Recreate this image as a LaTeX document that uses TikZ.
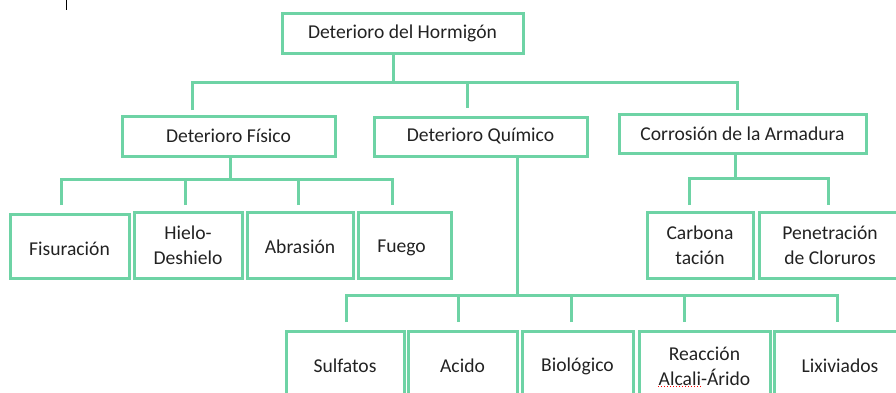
\documentclass[tikz,border=0pt]{standalone}
\usepackage{fontspec}
\setmainfont{Carlito}
\usepackage{tikz}
\definecolor{boxgreen}{HTML}{6ED3A5}
\definecolor{txtgray}{HTML}{222222}
\tikzstyle{box} = [draw=boxgreen, line width=1.5pt, rectangle, inner sep=0pt, align=center, text=txtgray, font=\fontsize{9.8}{12.5}\selectfont]
\tikzstyle{link} = [draw=boxgreen, line width=1.5pt]

\begin{document}
\begin{tikzpicture}[x=0.5pt,y=-0.5pt]
	\useasboundingbox (0,0) rectangle (896,392);
	\clip (0,0) rectangle (896,392);
	\draw[black, line width=0.5pt] (66,0) -- (66,10);
	% level 0 and 1
	\node[box, minimum width=120.5pt, minimum height=20pt] (top) at (402.5,33) {Deterioro del Hormigón};
	\node[box, minimum width=106.5pt, minimum height=20pt] (fis) at (228.5,136) {Deterioro Físico};
	\node[box, minimum width=106.5pt, minimum height=19.5pt] (qui) at (480.5,136.5) {Deterioro Químico};
	\node[box, minimum width=123.5pt, minimum height=19.5pt] (cor) at (742.5,133.5) {Corrosión de la Armadura};
	% level 2
	\node[box, minimum width=59.5pt, minimum height=32pt] (fisu) at (69.5,246) {\raisebox{-1.5pt}[\height][\depth]{Fisuración}};
	\node[box, minimum width=54pt, minimum height=33pt] (hie) at (188,245) {Hielo-\\Deshielo};
	\node[box, minimum width=53pt, minimum height=33pt] (abr) at (300,245) {\raisebox{-1pt}[\height][\depth]{Abrasión}};
	\node[box, minimum width=46.5pt, minimum height=33pt] (fue) at (404.5,245) {\raisebox{-1.5pt}[\height][\depth]{Fuego\hspace{3pt}}};
	\node[box, minimum width=53pt, minimum height=33pt] (car) at (700,245) {Carbona\\tación};
	\node[box, minimum width=71pt, minimum height=33pt] (pen) at (830,245) {Penetración\\de Cloruros};
	\node[box, minimum width=59pt, minimum height=35pt] (sul) at (345,366) {Sulfatos};
	\node[box, minimum width=54.5pt, minimum height=35pt] (aci) at (462.5,366) {Acido};
	\node[box, minimum width=55.5pt, minimum height=35pt] (bio) at (577.5,366) {Biológico};
	\node[box, minimum width=65.5pt, minimum height=35pt] (rea) at (704.5,366) {Reacción\\Alcali-Árido};
	\node[box, minimum width=66pt, minimum height=35pt] (lix) at (840,366) {Lixiviados};
	\draw[red, line width=0.5pt, densely dotted] (658,386) -- (701,386);
	% junctions and drop ends
	\coordinate (j0) at (393,82);
	\coordinate (d-fis) at (192,110);
	\coordinate (d-qui) at (467,108);
	\coordinate (d-cor) at (737,110);
	\coordinate (j1) at (230,179);
	\coordinate (d-fisu) at (61,205);
	\coordinate (d-hie) at (185,205);
	\coordinate (d-abr) at (298,205);
	\coordinate (d-fue) at (392,205);
	\coordinate (j2) at (735,178);
	\coordinate (d-car) at (689,205);
	\coordinate (d-pen) at (828,205);
	\coordinate (j3) at (517,295);
	\coordinate (d-sul) at (346,322);
	\coordinate (d-aci) at (458,322);
	\coordinate (d-bio) at (571,322);
	\coordinate (d-rea) at (684,322);
	\coordinate (d-lix) at (837,322);
	% connectors
	\draw[link] (top.south -| j0) -- (j0);
	\draw[link] (d-fis) |- (j0) -| (d-cor);
	\draw[link] (d-qui) -- (d-qui |- j0);
	\draw[link] (fis.south -| j1) -- (j1);
	\draw[link] (d-fisu) |- (j1) -| (d-fue);
	\draw[link] (d-hie) -- (d-hie |- j1);
	\draw[link] (d-abr) -- (d-abr |- j1);
	\draw[link] (cor.south -| j2) -- (j2);
	\draw[link] (d-car) |- (j2) -| (d-pen);
	\draw[link] (qui.south -| j3) -- (j3);
	\draw[link] (d-sul) |- (j3) -| (d-lix);
	\draw[link] (d-aci) -- (d-aci |- j3);
	\draw[link] (d-bio) -- (d-bio |- j3);
	\draw[link] (d-rea) -- (d-rea |- j3);
\end{tikzpicture}
\end{document}
